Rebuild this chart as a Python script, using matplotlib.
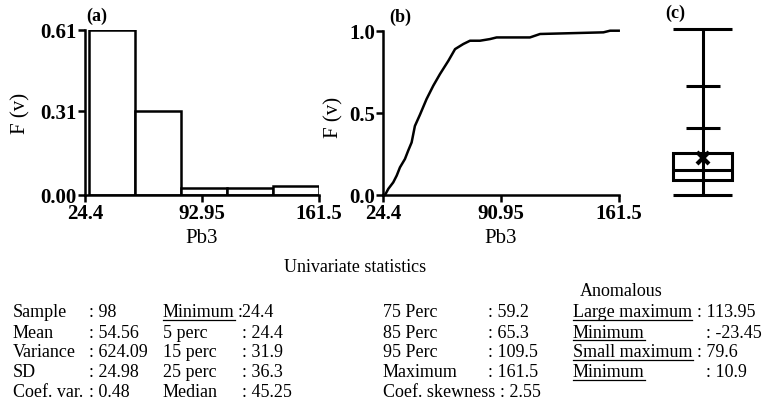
import matplotlib
matplotlib.use("Agg")
import matplotlib.pyplot as plt
from matplotlib.lines import Line2D
from matplotlib.patches import Rectangle

plt.rcParams['font.family'] = ['Liberation Serif', 'DejaVu Serif']

# ---------------- data ----------------
x_ticks = [24.4, 92.95, 161.5]
x_ticklabels_a = ['24.4', '92.95', '161.5']
x_ticklabels_b = ['24.4', '90.95', '161.5']

hist_edges = [26.5, 53.5, 80.5, 107.5, 134.5, 161.5]
hist_freq = [0.61, 0.31, 0.025, 0.025, 0.035]
hist_yticks = [0.00, 0.31, 0.61]
hist_yticklabels = ['0.00', '0.31', '0.61']

cdf_x = [24.4, 25.4, 27.3, 30.2, 32.2, 34.1, 37.0, 38.9, 40.9, 42.8, 45.8, 49.6,
         53.5, 57.4, 62.3, 66.2, 71.0, 74.9, 80.7, 86.5, 90.4, 109.8, 115.7,
         152.6, 156.5, 161.5]
cdf_y = [0.0, 0.0, 0.037, 0.077, 0.118, 0.168, 0.219, 0.27, 0.32, 0.42, 0.49, 0.584,
         0.665, 0.736, 0.817, 0.888, 0.919, 0.939, 0.939, 0.949, 0.959, 0.959, 0.98,
         0.99, 1.0, 1.0]
cdf_yticks = [0.0, 0.5, 1.0]
cdf_yticklabels = ['0.0', '0.5', '1.0']

box_min = 24.4
box_q1 = 36.3
box_median = 45.25
box_mean = 54.56
box_q3 = 59.2
box_small_max = 79.6
box_large_max = 113.95
box_max = 161.5

col1_labels = ['Sample', 'Mean', 'Variance', 'SD', 'Coef. var.']
col1_values = [': 98', ': 54.56', ': 624.09', ': 24.98', ': 0.48']
col2_labels = ['Minimum', '5 perc', '15 perc', '25 perc', 'Median']
col2_values = [':24.4', ': 24.4', ': 31.9', ': 36.3', ': 45.25']
col3_labels = ['75 Perc', '85 Perc', '95 Perc', 'Maximum', 'Coef. skewness']
col3_values = [': 59.2', ': 65.3', ': 109.5', ': 161.5', ': 2.55']
col4_labels = ['Large maximum', 'Minimum', 'Small maximum', 'Minimum']
col4_values = [': 113.95', ': -23.45', ': 79.6', ': 10.9']

W, H = 769, 410
fig = plt.figure(figsize=(W / 100, H / 100), dpi=100)


def fx(px):
    return px / W


def fy(py):
    return 1 - py / H


TICK_FS = 15
LW = 1.8


def style_axes(ax):
    for s in ['top', 'right']:
        ax.spines[s].set_visible(False)
    for s in ['left', 'bottom']:
        ax.spines[s].set_linewidth(LW)
    ax.tick_params(direction='out', length=5, width=LW, labelsize=TICK_FS, pad=1)
    for lab in ax.get_xticklabels() + ax.get_yticklabels():
        lab.set_fontweight('bold')


# ---------------- panel (a) ----------------
axa = fig.add_axes([fx(85), fy(196), fx(234), (196 - 30.7) / H])
for i, h in enumerate(hist_freq):
    axa.bar(hist_edges[i], h, width=hist_edges[i + 1] - hist_edges[i], align='edge',
            facecolor='white', edgecolor='black', linewidth=LW)
axa.set_xlim(x_ticks[0], x_ticks[-1])
axa.set_ylim(0, 0.61)
axa.set_xticks(x_ticks)
axa.set_xticklabels(x_ticklabels_a)
axa.set_yticks(hist_yticks)
axa.set_yticklabels(hist_yticklabels)
style_axes(axa)

# ---------------- panel (b) ----------------
axb = fig.add_axes([fx(383.3), fy(196), fx(235.4), (196 - 31.7) / H])
axb.plot(cdf_x, cdf_y, color='black', linewidth=LW, clip_on=False)
axb.set_xlim(x_ticks[0], x_ticks[-1])
axb.set_ylim(0, 1.0)
axb.set_xticks(x_ticks)
axb.set_xticklabels(x_ticklabels_b)
axb.set_yticks(cdf_yticks)
axb.set_yticklabels(cdf_yticklabels)
style_axes(axb)

# ---------------- panel (c) ----------------
axc = fig.add_axes([fx(660), fy(195.7), fx(85), (195.7 - 30) / H])
axc.set_xlim(0, 1)
axc.set_ylim(box_min, box_max)
axc.axis('off')
BLW = 2.2
axc.vlines(0.5, box_min, box_max, color='black', linewidth=BLW, clip_on=False)
axc.hlines([box_min, box_max], 0.5 - 0.347, 0.5 + 0.347, color='black', linewidth=BLW, clip_on=False)
axc.hlines([box_small_max, box_large_max], 0.5 - 0.2, 0.5 + 0.2, color='black', linewidth=BLW, clip_on=False)
axc.add_patch(Rectangle((0.5 - 0.347, box_q1), 0.694, box_q3 - box_q1, facecolor='none',
                        edgecolor='black', linewidth=BLW, clip_on=False))
axc.hlines(box_median, 0.5 - 0.347, 0.5 + 0.347, color='black', linewidth=BLW, clip_on=False)
axc.plot([0.5], [box_mean], marker='x', markersize=8, markeredgewidth=3, color='black', clip_on=False)

# ---------------- panel labels ----------------
fig.text(fx(97), fy(16), '(a)', ha='center', va='center', fontsize=13, fontweight='bold')
fig.text(fx(400), fy(17), '(b)', ha='center', va='center', fontsize=13, fontweight='bold')
fig.text(fx(675), fy(13), '(c)', ha='center', va='center', fontsize=13, fontweight='bold')

fig.text(fx(21), fy(113), 'F (v)', rotation=90, ha='center', va='center', fontsize=15)
fig.text(fx(334), fy(117), 'F (v)', rotation=90, ha='center', va='center', fontsize=15)
fig.text(fx(202), fy(239), 'Pb3', ha='center', va='center', fontsize=15)
fig.text(fx(501), fy(239), 'Pb3', ha='center', va='center', fontsize=15)

# ---------------- statistics ----------------
STAT_FS = 13
fig.text(fx(355), fy(268), 'Univariate statistics', ha='center', va='center', fontsize=STAT_FS)
fig.text(fx(580), fy(292), 'Anomalous', ha='left', va='center', fontsize=STAT_FS)

row_y = [313, 333, 353, 373, 393]
underlined = []
for i, (l, v) in enumerate(zip(col1_labels, col1_values)):
    fig.text(fx(13), fy(row_y[i]), l, ha='left', va='center', fontsize=STAT_FS)
    fig.text(fx(89), fy(row_y[i]), v, ha='left', va='center', fontsize=STAT_FS)
for i, (l, v) in enumerate(zip(col2_labels, col2_values)):
    t = fig.text(fx(163), fy(row_y[i]), l, ha='left', va='center', fontsize=STAT_FS)
    if i == 0:
        underlined.append(t)
    fig.text(fx(238 if i == 0 else 242), fy(row_y[i]), v, ha='left', va='center', fontsize=STAT_FS)
for i, (l, v) in enumerate(zip(col3_labels, col3_values)):
    fig.text(fx(383), fy(row_y[i]), l, ha='left', va='center', fontsize=STAT_FS)
    fig.text(fx(500 if i == 4 else 488), fy(row_y[i]), v, ha='left', va='center', fontsize=STAT_FS)
col4_colon_x = [697, 706, 697, 706]
for i, (l, v) in enumerate(zip(col4_labels, col4_values)):
    t = fig.text(fx(573), fy(row_y[i]), l, ha='left', va='center', fontsize=STAT_FS)
    underlined.append(t)
    fig.text(fx(col4_colon_x[i]), fy(row_y[i]), v, ha='left', va='center', fontsize=STAT_FS)

fig.canvas.draw()
r = fig.canvas.get_renderer()
for t in underlined:
    bb = t.get_window_extent(renderer=r)
    _, cy = t.get_position()
    yline = cy * H - 7.5
    fig.add_artist(Line2D([bb.x0 / W, bb.x1 / W], [yline / H, yline / H],
                          transform=fig.transFigure, color='black', linewidth=0.9))

fig.savefig('out.png', dpi=100)
